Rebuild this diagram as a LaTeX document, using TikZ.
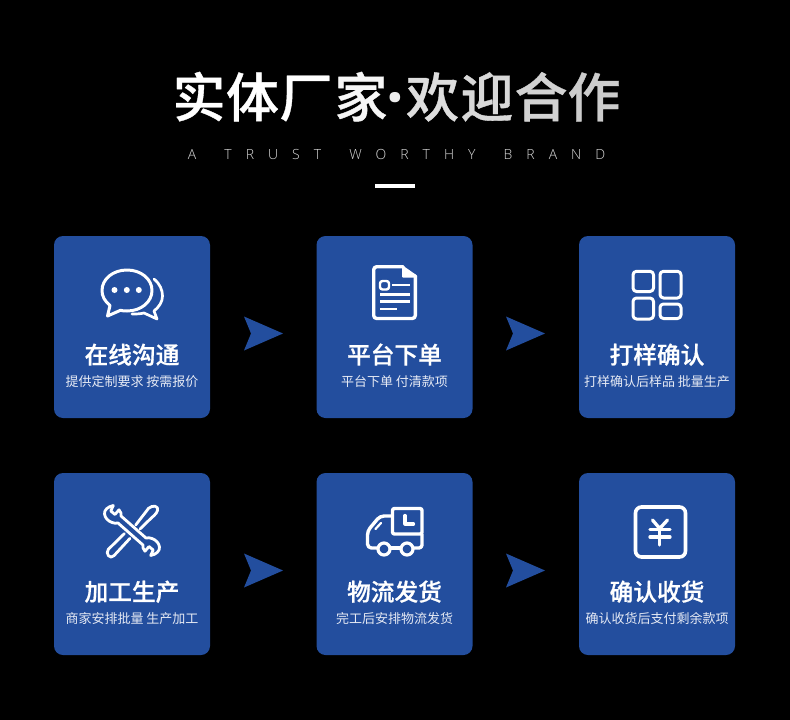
\documentclass[tikz,border=0pt]{standalone}
\usepackage{fontspec}
\setmainfont{Open Sans}
\newfontfamily\cjk{Noto Sans CJK SC}
\newfontfamily\cjkhead[FakeBold=0.7]{Noto Sans CJK SC Medium}
\newfontfamily\dotfont{Open Sans}
\newfontfamily\latinlight[LetterSpace=100,WordSpace=1.6]{Open Sans Light}
\definecolor{cardblue}{HTML}{234E9E}
\definecolor{subwhite}{HTML}{E6EAF4}
\newcommand{\fs}[1]{\fontsize{#1}{#1}\selectfont}
\newcommand{\cardbox}[5]{%
  \node[cardbg] (#1) at (#2,#3) {};
  \node[headtext] (#1h) at (#2,#3+36.7) {#4};
  \node[subtext] (#1s) at (#2,#3+59.5) {#5};
}
\newcommand{\chev}[2]{%
  \fill[cardblue] (#1-19.5,#2-17) -- (#1+19.5,#2) -- (#1-19.5,#2+17) -- (#1-12.5,#2) -- cycle;
}
\newcommand{\tch}[4]{\node[titlech,text=#3] (#4) at (#1,117) {#2};}
\tikzset{
  cardbg/.style={fill=cardblue,rounded corners=9pt,minimum width=156pt,minimum height=182pt,inner sep=0pt,draw=none},
  headtext/.style={anchor=base,text=white,inner sep=0pt,font=\cjkhead\fs{23.7}},
  subtext/.style={anchor=base,text=subwhite,inner sep=0pt,font=\cjk\fs{13}},
  titlech/.style={anchor=base,inner sep=0pt,font=\cjkhead\fs{53}},
  icon/.style={draw=white,line width=3pt,line join=round,line cap=round},
}
\begin{document}
\begin{tikzpicture}[x=1pt,y=-1pt]
\useasboundingbox (0,0) rectangle (790,720);
\fill[black] (0,0) rectangle (790,720);
% title
\definecolor{t1}{HTML}{FFFFFF}\definecolor{t2}{HTML}{F6F6F6}\definecolor{t3}{HTML}{EEEEEE}
\definecolor{t4}{HTML}{DEDEDE}\definecolor{t5}{HTML}{D8D8D8}\definecolor{t6}{HTML}{D2D2D2}\definecolor{t7}{HTML}{CCCCCC}
\tch{199}{实}{t1}{ta}
\tch{252.5}{体}{t1}{tb}
\tch{306}{厂}{t1}{tc}
\tch{361}{家}{t2}{td}
\node[anchor=base,inner sep=0pt,text=t3,font=\dotfont\bfseries\fs{62}] (te) at (395,119.5) {·};
\tch{432.5}{欢}{t4}{tf}
\tch{487}{迎}{t5}{tg}
\tch{541}{合}{t6}{th}
\tch{594}{作}{t7}{ti}
\node[anchor=base,inner sep=0pt,text=white!85!black,font=\latinlight\fs{14}] (tag) at (396.5,159) {A TRUST WORTHY BRAND};
\fill[white] (375,184) rectangle (415,188);
% cards
\cardbox{c1}{132}{327}{在线沟通}{提供定制要求 按需报价}
\cardbox{c2}{394.5}{327}{平台下单}{平台下单 付清款项}
\cardbox{c3}{657}{327}{打样确认}{打样确认后样品 批量生产}
\cardbox{c4}{132}{564}{加工生产}{商家安排批量 生产加工}
\cardbox{c5}{394.5}{564}{物流发货}{完工后安排物流发货}
\cardbox{c6}{657}{564}{确认收货}{确认收货后支付剩余款项}
% chevrons
\chev{263.5}{333.5}
\chev{525.5}{333.5}
\chev{263.5}{570.5}
\chev{525.5}{570.5}
% chat icon
\draw[icon] (107.5,316) -- (110,305.5) .. controls (104.5,301) and (102,296) .. (102,290.5) .. controls (102,279) and (113,270) .. (127,270) .. controls (141,270) and (152,279) .. (152,290.5) .. controls (152,302) and (141,311) .. (127,311) .. controls (124,311) and (122,310.8) .. (120.5,310.3) -- cycle;
\draw[icon,line width=2.7pt] (154,279) .. controls (160,284) and (162.5,290) .. (162.5,296) .. controls (162.5,302) and (159,307) .. (154,311) -- (157,319) -- (144,313) .. controls (140,314) and (136,314) .. (132,314);
\fill[white] (114.5,290) circle (3pt) (126.8,290) circle (3pt) (138.8,290) circle (3pt);
% document icon
\draw[icon,line width=3.4pt,rounded corners=3pt] (403,266.7) -- (373.7,266.7) -- (373.7,318.5) -- (415.3,318.5) -- (415.3,276);
\fill[white,rounded corners=.8pt] (402,265) -- (417,275.5) -- (417,277.5) -- (402,277.5) -- cycle;
\draw[icon,line width=2.4pt,rounded corners=2.5pt] (380,281) rectangle (389,289.5);
\draw[icon,line width=2.2pt,line cap=butt] (392,285) -- (409.5,285) (380,294.5) -- (409.5,294.5) (380,301.5) -- (409.5,301.5) (380,308.8) -- (397,308.8);
% grid icon
\draw[icon,rounded corners=3.5pt] (633,271.3) rectangle (653.5,291.5);
\draw[icon,rounded corners=3.5pt] (660,271.3) rectangle (681,298);
\draw[icon,rounded corners=3.5pt] (633,298) rectangle (653.5,319);
\draw[icon,rounded corners=3.5pt] (660,304) rectangle (681,318.5);
% tools icon: wrench
\draw[icon,line width=2.8pt]
 (113.3,505.5) -- (110.8,511) -- (115,514.5) -- (119,509.8) .. controls (121,512) and (121.5,514) .. (121,516) -- (146,538) .. controls (148,537.5) and (150,537.8) .. (152,538.5) .. controls (156,540) and (159,543) .. (159.5,547) .. controls (160,551) and (156,554.5) .. (150.7,555.5) -- (153.2,550) -- (149,546.5) -- (145,551.2) .. controls (143,549) and (142.5,547) .. (143,545) -- (118,523) .. controls (116,523.5) and (114,523.2) .. (112,522.5) .. controls (108,521) and (105,518) .. (104.5,514) .. controls (104,510) and (108,506.5) .. (113.3,505.5) -- cycle;
% tools icon: screwdriver (coordinates of a 3x crop)
\begin{scope}[shift={(90,495)},x=.3333pt,y=-.3333pt]
\draw[icon,line width=2.8pt] (137,90) -- (168,50) .. controls (175,35) and (195,28) .. (202,38) .. controls (207,48) and (195,60) .. (185,68) -- (150,102);
\draw[icon,line width=2.8pt] (103,116) -- (55,163) .. controls (45,175) and (60,195) .. (72,182) -- (120,130);
\end{scope}
% truck icon
\draw[icon,line width=3.4pt,rounded corners=2pt] (392.5,508.5) rectangle (422,534);
\draw[icon,line width=3.2pt] (405,515.5) -- (405,524) -- (413.5,524);
\draw[icon,line width=3.4pt,rounded corners=4pt] (392.5,516) -- (380,516) -- (367.5,531) -- (367.5,548) -- (377,548);
\draw[icon,line width=3.4pt] (391,548) -- (400.5,548);
\draw[icon,line width=3.4pt,rounded corners=3pt] (414,548) -- (422,548) -- (422,534);
\draw[icon,line width=3.2pt] (384,549) circle (6pt) (407,549) circle (6pt);
\draw[icon,line width=2.2pt] (375.5,529) -- (381,523);
% yen icon
\draw[icon,line width=3.6pt,rounded corners=6pt] (635.5,507) rectangle (685.5,557);
\draw[icon,line width=3.3pt] (652.5,520) -- (659.7,528.5) -- (667.5,520);
\draw[icon,line width=3.3pt] (650,529.5) -- (670,529.5) (650,537) -- (670,537) (659.7,528.5) -- (659.7,545);
\end{tikzpicture}
\end{document}
